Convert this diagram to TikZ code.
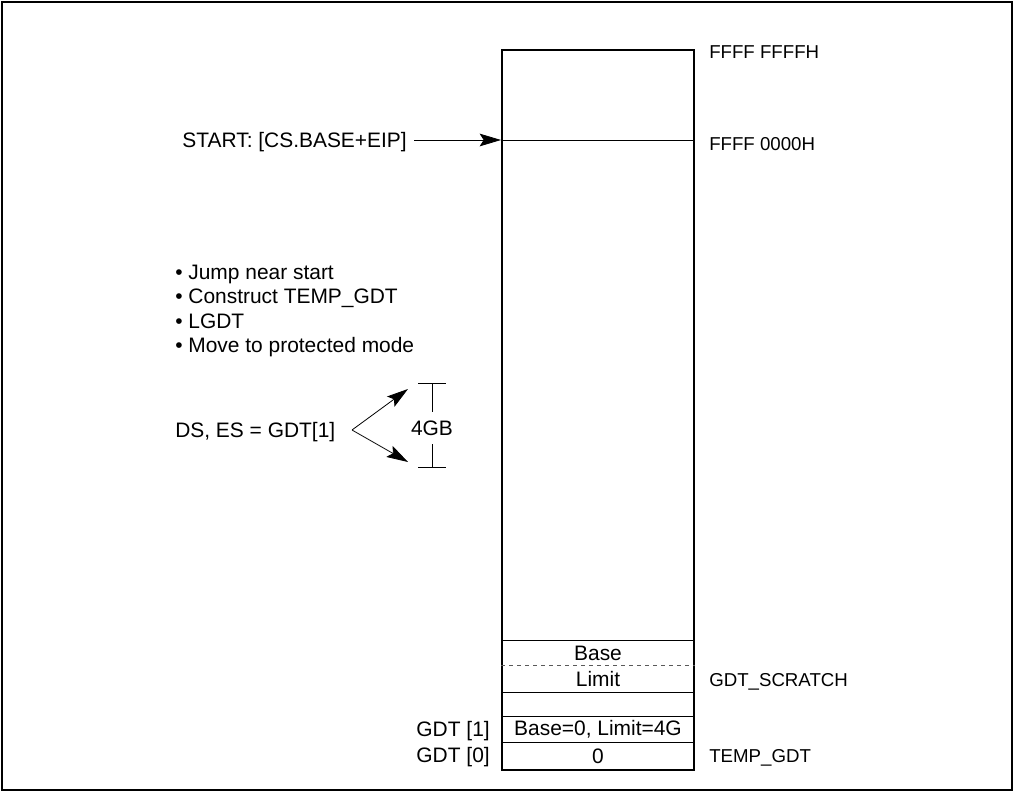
\documentclass[tikz,border=0pt]{standalone}
\usepackage{fontspec}
\setmainfont{Liberation Sans}
\usetikzlibrary{arrows.meta, positioning, calc}

\begin{document}
\begin{tikzpicture}[x=0.75pt, y=-0.75pt,
  lbl/.style={font=\fontsize{15.7}{18.4}\selectfont, inner sep=0pt},
  addr/.style={font=\fontsize{14}{16.8}\selectfont, inner sep=0pt, anchor=base west},
  cell/.style={lbl, anchor=center},
  arr/.style={-{Stealth[length=16pt, width=9.5pt, inset=3pt]}, line width=0.6pt},
  rowline/.style={line width=0.6pt}
]
\useasboundingbox (0,0) rectangle (1014,792);
\draw[line width=1.1pt] (2,2) rectangle (1012,790);
% memory map
\node[draw, line width=1.5pt, minimum width=144pt, minimum height=540pt, inner sep=0pt] (mem) at (598,410) {};
\foreach \y in {140,640,692,716,742}
  \draw[rowline] (mem.west |- 0,\y) -- (mem.east |- 0,\y);
\draw[rowline, gray!70!black, dash pattern=on 3pt off 3pt] (mem.west |- 0,665) -- (mem.east |- 0,665);
\node[cell] (base) at (598,653) {Base};
\node[cell] (limit) at (598,679) {Limit};
\node[cell] (gdtone) at (598,729) {Base=0, Limit=4G};
\node[cell] (gdtzero) at (598,756) {0};
% addresses and names
\node[addr] (top) at (709,59) {FFFF FFFFH};
\node[addr] (entry) at (709,151) {FFFF 0000H};
\node[addr] (scratch) at (709,686) {GDT\_SCRATCH};
\node[addr] (temp) at (709,762) {TEMP\_GDT};
\node[lbl, anchor=base east] (idxone) at (490,736) {GDT [1]};
\node[lbl, anchor=base east] (idxzero) at (490,762) {GDT [0]};
% start address
\node[lbl, anchor=base east] (start) at (407,147) {START: [CS.BASE+EIP]};
\coordinate (startarr) at (414,140);
\draw[arr] (startarr) -- (mem.west |- startarr);
% steps
\node[lbl, anchor=base west] (s1) at (175,279) {\textbullet\ Jump near start};
\node[lbl, anchor=base west] (s2) at (175,303.5) {\textbullet\ Construct TEMP\_GDT};
\node[lbl, anchor=base west] (s3) at (175,328) {\textbullet\ LGDT};
\node[lbl, anchor=base west] (s4) at (175,352.5) {\textbullet\ Move to protected mode};
% segments
\node[lbl, anchor=base west] (ds) at (175,437) {DS, ES = GDT[1]};
\coordinate (fork) at (352,430);
\coordinate (up) at (408,389);
\coordinate (down) at (408,462);
\draw[arr] (fork) -- (up);
\draw[arr] (fork) -- (down);
\node[lbl, minimum height=24pt] (size) at (432,428) {4GB};
\coordinate (sztop) at (432,383);
\coordinate (szbot) at (432,467);
\draw[rowline] (sztop) -- (size.north);
\draw[rowline] (size.south) -- (szbot);
\draw[rowline] ([xshift=-10.5pt]sztop) -- ([xshift=10.5pt]sztop);
\draw[rowline] ([xshift=-10.5pt]szbot) -- ([xshift=10.5pt]szbot);
\end{tikzpicture}
\end{document}
